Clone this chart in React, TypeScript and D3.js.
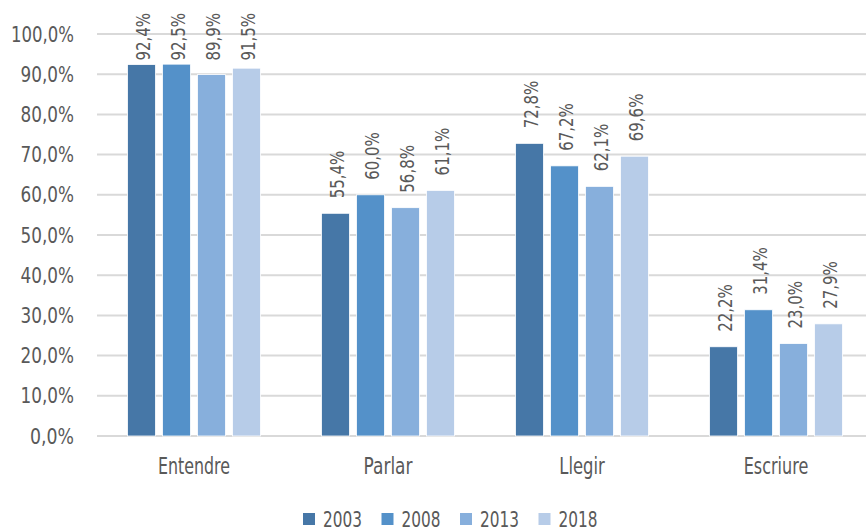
import React from "react";
import * as d3 from "d3";

const categories = ["Entendre", "Parlar", "Llegir", "Escriure"];
const years = ["2003", "2008", "2013", "2018"];
const values2003 = [92.4, 55.4, 72.8, 22.2];
const values2008 = [92.5, 60.0, 67.2, 31.4];
const values2013 = [89.9, 56.8, 62.1, 23.0];
const values2018 = [91.5, 61.1, 69.6, 27.9];
const seriesValues = [values2003, values2008, values2013, values2018];
const yTicks = [0, 10, 20, 30, 40, 50, 60, 70, 80, 90, 100];
const colors = ["#4677a7", "#5491c9", "#87afdc", "#b7cce8"];

const W = 866;
const H = 527;
const FONT = "'DejaVu Sans', sans-serif";
const TXT = "#595959";

// approximate advance widths of the reference's condensed face
const CHAR_W: Record<string, number> = {
  "0": 9.5, "1": 9.5, "2": 9.5, "3": 9.5, "4": 9.5, "5": 9.5, "6": 9.5, "7": 9.5, "8": 9.5, "9": 9.5,
  ",": 5, "%": 20,
  E: 9, n: 10, t: 6.5, e: 9.5, d: 10, r: 7.5, P: 9, a: 10, l: 5, L: 8.5, g: 10, i: 5, s: 8, c: 8, u: 10,
};
const textW = (s: string, k = 1) => s.split("").reduce((acc, ch) => acc + (CHAR_W[ch] ?? 9), 0) * k;

const fmt = (v: number) => v.toFixed(1).replace(".", ",") + "%";

export default function App() {
  const x0 = d3.scaleBand<string>().domain(categories).range([97, 873]).padding(0);
  const groupW = 133;
  const x1 = d3.scaleBand<string>().domain(years).range([0, groupW]).paddingInner(0.2).paddingOuter(0);
  const offset = (x0.bandwidth() - groupW) / 2;
  const y = d3.scaleLinear().domain([0, 100]).range([436, 34]);
  const labelK = 0.89;

  return (
    <svg width={W} height={H} style={{ position: "absolute", left: 0, top: 0, background: "#fff" }} fontFamily={FONT}>
      {yTicks.map((t) => (
        <g key={t}>
          <line x1={97} x2={866} y1={y(t)} y2={y(t)} stroke="#d9d9d9" strokeWidth={2} />
          <text
            x={74}
            y={y(t)}
            dy="0.36em"
            textAnchor="end"
            fontSize={21}
            fill={TXT}
            textLength={textW(fmt(t))}
            lengthAdjust="spacingAndGlyphs"
          >
            {fmt(t)}
          </text>
        </g>
      ))}
      {categories.map((c, ci) => (
        <g key={c} transform={`translate(${(x0(c) as number) + offset},0)`}>
          {years.map((yr, si) => {
            const v = seriesValues[si][ci];
            const bx = x1(yr) as number;
            const cx = bx + x1.bandwidth() / 2;
            const label = fmt(v);
            const len = textW(label, labelK);
            const start = Math.max(y(v) - 15, 13 + len);
            return (
              <g key={yr}>
                <rect x={bx} y={y(v)} width={x1.bandwidth()} height={y(0) - y(v)} fill={colors[si]} stroke="#ffffff" strokeWidth={0.8} />
                <text
                  transform={`translate(${cx + 1},${start}) rotate(-90)`}
                  dy="0.36em"
                  textAnchor="start"
                  fontSize={20}
                  fill={TXT}
                  textLength={len}
                  lengthAdjust="spacingAndGlyphs"
                >
                  {label}
                </text>
              </g>
            );
          })}
        </g>
      ))}
      {categories.map((c) => (
        <text
          key={c}
          x={(x0(c) as number) + x0.bandwidth() / 2}
          y={474}
          textAnchor="middle"
          fontSize={23}
          fill={TXT}
          textLength={textW(c)}
          lengthAdjust="spacingAndGlyphs"
        >
          {c}
        </text>
      ))}
      {years.map((yr, i) => (
        <g key={yr} transform={`translate(${303 + i * 78.5},0)`}>
          <rect x={0} y={513} width={12} height={12} fill={colors[i]} />
          <text x={20} y={527} fontSize={21} fill={TXT} textLength={39} lengthAdjust="spacingAndGlyphs">
            {yr}
          </text>
        </g>
      ))}
    </svg>
  );
}
